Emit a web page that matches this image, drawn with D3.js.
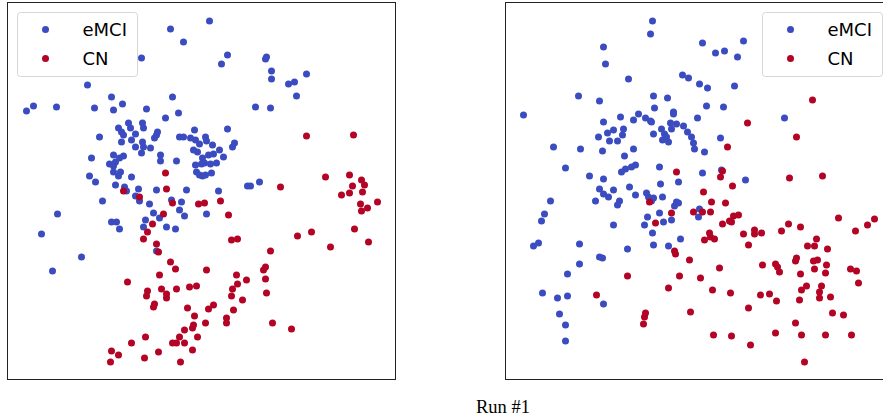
<!DOCTYPE html>
<html>
<head>
<meta charset="utf-8">
<script src="https://cdn.jsdelivr.net/npm/d3@7"></script>
<style>
  body { margin: 0; background: #fff; }
  svg { display: block; }
</style>
</head>
<body>
<svg></svg>
<script>
// Canvas size
var w = 883;
var h = 420;

// Class names and colours (coolwarm ends)
var classes = ["eMCI", "CN"];
var classColors = ["#3b4cc0", "#b40426"];
var caption = "Run #1";

// Points, in image pixel units [x, y]
var leftEmci = [
  [170,29],[183,42],[141,58],[87,85],[111,97],[172,97],[122,104],[33,106],[26,111],[56,107],[94,108],[113,110],
  [146,109],[178,113],[165,118],[128,123],[142,123],[118,128],[130,128],[143,128],[121,132],[157,132],[194,130],
  [227,129],[99,137],[123,135],[135,134],[131,140],[156,135],[154,138],[142,142],[121,142],[179,137],[183,137],
  [190,138],[195,140],[205,137],[206,141],[199,144],[212,145],[234,143],[232,147],[135,147],[143,147],[150,148],
  [193,150],[197,152],[208,155],[219,150],[213,154],[223,157],[141,153],[113,155],[123,156],[119,158],[160,155],
  [160,161],[176,161],[91,158],[109,164],[113,166],[115,162],[202,158],[204,163],[195,165],[201,164],[210,164],
  [216,163],[196,172],[199,175],[202,176],[205,175],[211,173],[113,172],[120,172],[118,176],[131,177],[89,176],
  [95,182],[115,185],[124,187],[126,191],[138,189],[156,190],[186,190],[218,191],[247,186],[135,196],[139,201],
  [149,204],[171,200],[181,202],[179,210],[184,216],[206,214],[102,201],[153,213],[159,218],[145,220],[166,227],
  [175,229],[111,222],[116,222],[119,229],[143,227],[209,21],[227,55],[221,64],[266,57],[265,59],[271,71],
  [271,79],[288,84],[294,82],[306,74],[296,96],[255,107],[270,108],[250,186],[259,182],[57,214],[41,234],
  [81,257],[52,271],[156,251]
];
var leftCn = [
  [123,191],[165,173],[166,189],[139,197],[172,203],[198,204],[204,203],[220,201],[228,215],[163,214],[152,224],
  [147,232],[143,239],[156,244],[231,240],[237,239],[306,136],[353,135],[325,177],[349,175],[361,180],[364,185],
  [352,186],[362,192],[349,193],[341,195],[280,187],[360,204],[361,211],[367,208],[377,202],[354,229],[368,242],
  [330,247],[311,232],[297,236],[270,251],[265,267],[263,270],[265,279],[266,293],[272,323],[291,329],[246,280],
  [236,275],[237,284],[232,289],[231,296],[242,300],[233,310],[213,305],[208,309],[226,318],[226,323],[205,323],
  [206,270],[158,252],[170,262],[175,269],[159,275],[127,282],[147,291],[146,296],[161,289],[166,294],[166,298],
  [176,289],[189,287],[196,286],[154,304],[153,307],[187,308],[194,316],[193,325],[192,328],[184,330],[179,337],
  [197,337],[176,343],[172,343],[184,343],[145,337],[131,343],[111,351],[118,355],[110,362],[144,358],[158,352],
  [180,362],[192,350]
];
var rightEmci = [
  [652,21],[650,34],[603,47],[605,64],[628,79],[682,75],[688,78],[578,96],[599,101],[653,96],[667,98],[654,108],
  [523,115],[553,147],[580,149],[565,168],[699,84],[707,88],[734,86],[706,106],[723,107],[673,112],[673,114],
  [638,114],[620,117],[633,120],[645,118],[650,121],[651,122],[603,122],[670,123],[676,124],[683,126],[697,118],
  [613,130],[623,129],[607,133],[598,137],[622,135],[609,141],[617,141],[653,134],[661,129],[671,129],[687,132],
  [664,134],[666,137],[662,140],[668,142],[691,137],[693,143],[694,149],[704,152],[720,138],[602,151],[633,149],
  [624,156],[635,165],[631,167],[625,169],[621,172],[659,167],[702,173],[721,170],[589,176],[603,179],[678,182],
  [660,184],[629,187],[599,189],[613,190],[603,194],[608,197],[595,201],[619,201],[617,205],[635,195],[646,193],
  [648,197],[653,198],[651,201],[662,197],[676,202],[674,206],[678,203],[699,209],[698,217],[659,213],[647,217],
  [644,225],[663,222],[671,220],[613,225],[652,233],[680,239],[579,244],[653,245],[668,246],[627,249],[702,43],
  [715,53],[724,51],[743,41],[737,57],[784,118],[745,180],[550,201],[544,214],[541,221],[533,246],[538,243],
  [599,257],[602,258],[579,264],[567,274],[542,293],[557,298],[567,296],[603,304],[559,314],[565,325],[565,341]
];
var rightCn = [
  [812,100],[747,123],[796,137],[727,147],[676,172],[722,171],[720,177],[732,186],[789,178],[822,176],[703,192],
  [711,202],[725,203],[693,212],[702,212],[710,212],[649,202],[671,213],[655,223],[722,224],[729,221],[731,222],
  [733,216],[738,215],[704,240],[709,233],[710,237],[714,239],[743,234],[674,251],[675,254],[689,260],[719,268],
  [748,245],[754,230],[754,234],[761,233],[781,231],[788,224],[800,227],[838,218],[855,231],[867,225],[874,219],
  [700,278],[762,265],[775,264],[777,267],[779,272],[795,261],[796,258],[807,246],[814,246],[816,239],[827,249],
  [800,274],[813,261],[817,260],[814,269],[826,265],[825,273],[850,269],[856,271],[858,283],[712,290],[730,293],
  [760,295],[769,294],[776,301],[801,290],[806,286],[799,300],[821,286],[819,292],[819,298],[830,297],[748,308],
  [832,313],[843,315],[690,312],[795,323],[713,335],[731,336],[775,333],[801,335],[825,335],[851,335],[750,345],
  [804,362],[627,276],[679,276],[668,288],[596,295],[645,313],[644,317],[643,324]
];

// Panel geometry
var panelW = 388;
var panelH = 377;

var svg = d3.select("svg")
    .attr("width", w)
    .attr("height", h);

function drawPanel(left, emci, cn, legendRight) {
    var g = svg.append("g")
        .attr("transform", "translate(" + (left + 0.5) + ",2.5)");

    // Scales map the picture units into the panel
    var xScale = d3.scaleLinear().domain([left, left + panelW]).range([0, panelW]);
    var yScale = d3.scaleLinear().domain([2.5, 2.5 + panelH]).range([0, panelH]);

    // Points, eMCI first then CN
    [emci, cn].forEach(function (pts, i) {
        g.selectAll(".dot" + i)
            .data(pts)
            .enter()
            .append("circle")
            .attr("class", "dot" + i)
            .attr("cx", function (d) { return xScale(d[0]); })
            .attr("cy", function (d) { return yScale(d[1]); })
            .attr("r", 3.5)
            .attr("fill", classColors[i]);
    });

    // Frame
    g.append("rect")
        .attr("width", panelW)
        .attr("height", panelH)
        .attr("fill", "none")
        .attr("stroke", "#222")
        .attr("stroke-width", 1);

    // Legend
    var lx = legendRight ? 257 : 10;
    var legend = g.append("g")
        .attr("transform", "translate(" + lx + ",10)");

    legend.append("rect")
        .attr("width", 120)
        .attr("height", 64)
        .attr("rx", 3)
        .attr("fill", "#fff")
        .attr("fill-opacity", 0.85)
        .attr("stroke", "#d6d6d6");

    legend.selectAll("circle")
        .data(classes)
        .enter().append("circle")
        .attr("cx", 28)
        .attr("cy", function (d, i) { return 17 + i * 29; })
        .attr("r", 3.5)
        .attr("fill", function (d, i) { return classColors[i]; });

    legend.selectAll("text")
        .data(classes)
        .enter().append("text")
        .attr("x", 65)
        .attr("y", function (d, i) { return 17 + i * 29; })
        .attr("dy", "0.36em")
        .attr("font-family", "DejaVu Sans, sans-serif")
        .attr("font-size", "18px")
        .attr("fill", "#000")
        .text(function (d) { return d; });
}

drawPanel(7, leftEmci, leftCn, false);
drawPanel(505, rightEmci, rightCn, true);

// Caption under the panels
svg.append("text")
    .attr("x", 503)
    .attr("y", 413)
    .attr("text-anchor", "middle")
    .attr("font-family", "Liberation Serif, Times New Roman, serif")
    .attr("font-size", "18.5px")
    .attr("fill", "#000")
    .text(caption);
</script>
</body>
</html>
